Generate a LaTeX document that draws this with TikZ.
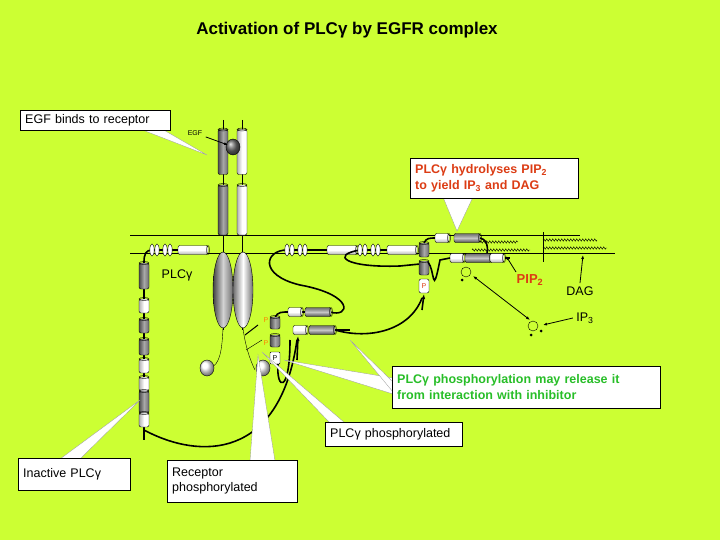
\documentclass[tikz,border=0pt]{standalone}
\usepackage{fontspec}
\setmainfont{Liberation Sans}
\usetikzlibrary{arrows.meta,decorations.pathmorphing}
\definecolor{bg}{RGB}{204,255,51}
\definecolor{dk}{RGB}{110,110,110}
\definecolor{redt}{RGB}{220,60,20}
\definecolor{grt}{RGB}{40,190,40}
\tikzset{
  box/.style={draw,fill=white,inner xsep=5pt,inner ysep=3pt,font=\fontsize{12.5}{15}\selectfont,align=left},
  tip/.style={fill=white,draw=black!40,line width=0.3pt},
  chain/.style={line width=1.6pt},
  lbl/.style={font=\fontsize{12.5}{15}\selectfont},
  lipid/.style={decorate,decoration={zigzag,amplitude=1.2pt,segment length=3pt},line width=0.4pt}
}
% horizontal cylinder: x y width colour
\newcommand\hcyl[4]{\draw[top color=#4,bottom color=#4!70!black,middle color=#4!40!white,rounded corners=2pt] ({#1-#3/2},{#2-4.5}) rectangle ++(#3,9);
  \draw ({#1+#3/2},#2) ellipse (1.5 and 4.5);}
% vertical cylinder: x y height colour
\newcommand\vcyl[4]{\draw[left color=#4!70!black,right color=#4,middle color=#4!60!white,rounded corners=2pt] ({#1-5},{#2-#3/2}) rectangle ++(10,#3);
  \draw (#1,{#2-#3/2}) ellipse (5 and 1.5);}
% SH2 rings: x y
\newcommand\rings[2]{\foreach \d in {0,5,13,18}{\draw[fill=white] ({#1+\d},#2) ellipse (2.2 and 6);}}
\newcommand\ball[3]{\shade[ball color=#3] (#1,#2) ellipse (7 and 8);\draw (#1,#2) ellipse (7 and 8);}
\begin{document}
\begin{tikzpicture}[x=1pt,y=-1pt]
\fill[bg] (0,0) rectangle (720,540);
\useasboundingbox (0,0) rectangle (720,540);

\node[font=\fontsize{17}{20}\selectfont\bfseries] (title) at (347,30) {Activation of PLCγ by EGFR complex};

% membrane
\draw (130,235) -- (580,235);
\draw (130,253) -- (615,253);

% receptor
\draw (223,120) -- (223,330); \draw (242,120) -- (242,330);
\vcyl{223}{152}{45}{dk} \vcyl{242}{152}{45}{white}
\vcyl{223}{210}{50}{dk} \vcyl{242}{210}{50}{white}
\ball{233}{147}{dk}
\shade[left color=dk!60!black,right color=dk,middle color=dk!30!white] (223,290) ellipse (10 and 38);
\draw (223,290) ellipse (10 and 38);
\shade[left color=dk,right color=dk,middle color=white] (243,290) ellipse (10 and 38);
\draw (243,290) ellipse (10 and 38);
\draw (223,328) .. controls (222,350) and (220,365) .. (210,368);
\draw (243,328) .. controls (245,345) and (250,360) .. (255,370);
\ball{207}{368}{white}
\ball{263}{368}{white}
\draw[line width=1pt] (245,335) -- (258,325);
\draw (246,350) -- (262,340);
\node[text=orange,font=\scriptsize] (p1) at (266,320) {P};
\node[text=orange,font=\scriptsize] (p2) at (266,343) {P};

% EGF label
\node[font=\scriptsize] (egf) at (195,133) {EGF};
\coordinate (egfb) at (228,145);
\draw[-{Latex[length=4pt]},line width=0.8pt] (egf) -- (egfb);

% left inactive PLCg
\draw[chain] (144,262) .. controls (144,254) and (146,250) .. (152,250) -- (200,250);
\rings{152}{250}
\hcyl{193}{250}{30}{white}
\draw[line width=1.4pt] (144,262) -- (144,440);
\vcyl{144}{276}{26}{dk} \vcyl{144}{306}{14}{white} \vcyl{144}{326}{14}{dk}
\vcyl{144}{347}{16}{dk} \vcyl{144}{366}{14}{white} \vcyl{144}{384}{14}{white}
\vcyl{144}{402}{22}{dk} \vcyl{144}{420}{14}{white}
\node[lbl] (plcg) at (177,275) {PLCγ};

% middle PLCg
\draw[chain] (287,250) .. controls (265,250) and (258,275) .. (300,285)
  .. controls (355,295) and (350,318) .. (330,312) -- (285,312) .. controls (278,312) and (275,315) .. (275,320);
\draw[chain] (287,250) -- (340,250);
\rings{287}{250}
\hcyl{342}{250}{30}{white}
\hcyl{295}{312}{14}{white} \hcyl{318}{312}{26}{dk}
\vcyl{275}{323}{12}{dk} \vcyl{275}{341}{12}{dk}
\draw[fill=white,rounded corners=1pt] (270,352) rectangle (280,364);
\node[font=\scriptsize,inner sep=0] (pp) at (275,358) {P};
\draw[chain] (278,364) .. controls (276,390) and (290,395) .. (290,340);
\hcyl{300}{330}{14}{white} \hcyl{322}{330}{26}{dk}
\draw[chain] (335,330) -- (350,330);
\draw[chain] (144,430) .. controls (200,460) and (280,460) .. (297,340);
\draw[-{Latex[length=5pt]},chain] (297,360) -- (298,336);

% right PLCg
\draw[chain] (360,250) .. controls (330,255) and (345,268) .. (400,266) -- (420,264);
\draw[chain] (360,250) -- (395,250);
\rings{360}{250}
\hcyl{402}{250}{30}{white}
\vcyl{424}{250}{14}{dk} \vcyl{424}{268}{14}{dk}
\draw[fill=white,rounded corners=2pt] (419,279) rectangle (429,293);
\node[font=\scriptsize,text=redt,inner sep=0] (pr) at (424,286) {P};
\draw[chain] (424,243) .. controls (426,238) and (430,238) .. (435,238);
\hcyl{442}{238}{14}{white} \hcyl{467}{238}{26}{dk}
\draw[chain] (480,238) .. controls (490,240) and (488,255) .. (485,258);
\hcyl{457}{258}{14}{white} \hcyl{478}{258}{26}{dk} \hcyl{497}{258}{14}{white}
\draw[chain] (505,258) -- (510,258);
\draw[chain] (428,262) .. controls (435,270) and (432,300) .. (440,260) -- (450,258);
\draw[chain] (335,330) .. controls (370,340) and (410,330) .. (422,298);
\draw[-{Latex[length=5pt]},chain] (422,310) -- (424,294);

% lipids
\draw[lipid] (480,242) -- (518,242);
\draw[lipid] (472,250) -- (530,250);
\draw (543,232) -- (543,262);
\draw[lipid] (543,240) -- (597,240);
\draw[lipid] (543,248) -- (607,248);

% IP3 molecules
\draw (466,272) circle (5); \fill (462,280) circle (1.5);
\draw (533,326) circle (5); \fill (531,335) circle (1.5); \fill (541,331) circle (1.5);
\draw[{Latex[length=4pt]}-{Latex[length=4pt]},line width=0.8pt] (473,276) -- (530,320);

\node[text=redt,font=\fontsize{13}{15}\selectfont\bfseries] (pip2) at (530,280) {PIP\textsubscript{2}};
\node[lbl] (dag) at (580,291) {DAG};
\node[lbl] (ip3) at (585,318) {IP\textsubscript{3}};
\coordinate (pipt) at (506,256);
\coordinate (dagt) at (583,255);
\coordinate (ip3t) at (543,325);
\coordinate (pipf) at (516,272);
\draw[-{Latex[length=4pt]},line width=0.8pt] (pipf) -- (pipt);
\draw[-{Latex[length=4pt]},line width=0.8pt] (dag.north) -- (dagt);
\draw[-{Latex[length=4pt]},line width=0.8pt] (ip3.west) -- (ip3t);

% callouts
\coordinate (t1) at (207,155);
\fill[tip] (162,129) -- (t1) -- (140,129) -- cycle;
\node[box,anchor=north west,text width=140pt,minimum height=20pt] (b1) at (20,110) {EGF binds to receptor};

\coordinate (t2) at (457,231);
\fill[tip] (443,197) -- (t2) -- (473,197) -- cycle;
\node[box,anchor=north west,text=redt,font=\fontsize{12.5}{16}\selectfont\bfseries,text width=158pt,minimum height=40pt] (b2) at (410,158)
  {PLCγ hydrolyses PIP\textsubscript{2}\\to yield IP\textsubscript{3} and DAG};

\coordinate (t3) at (284,360);
\fill[tip] (393,378) -- (t3) -- (393,394) -- cycle;
\coordinate (t3b) at (350,340);
\fill[tip] (393,382) -- (t3b) -- (393,392) -- cycle;
\node[box,anchor=north west,text=grt,font=\fontsize{12.5}{16}\selectfont\bfseries,text width=258pt,minimum height=42pt] (b3) at (392,366)
  {PLCγ phosphorylation may release it\\from interaction with inhibitor};

\coordinate (t4) at (258,355);
\fill[tip] (250,461) -- (t4) -- (275,461) -- cycle;
\node[box,anchor=north west,text width=120pt,minimum height=42pt] (b5) at (167,460) {Receptor\\phosphorylated};

\coordinate (t6) at (262,352);
\fill[tip] (345,423) -- (t6) -- (330,423) -- cycle;
\node[box,anchor=north west,text width=127pt,minimum height=24pt] (b4) at (325,422) {PLCγ phosphorylated};

\coordinate (t7) at (140,400);
\fill[tip] (80,459) -- (t7) -- (60,459) -- cycle;
\node[box,anchor=north west,minimum height=32pt,text width=102pt] (b6) at (18,458) {Inactive PLCγ};
\end{tikzpicture}
\end{document}
